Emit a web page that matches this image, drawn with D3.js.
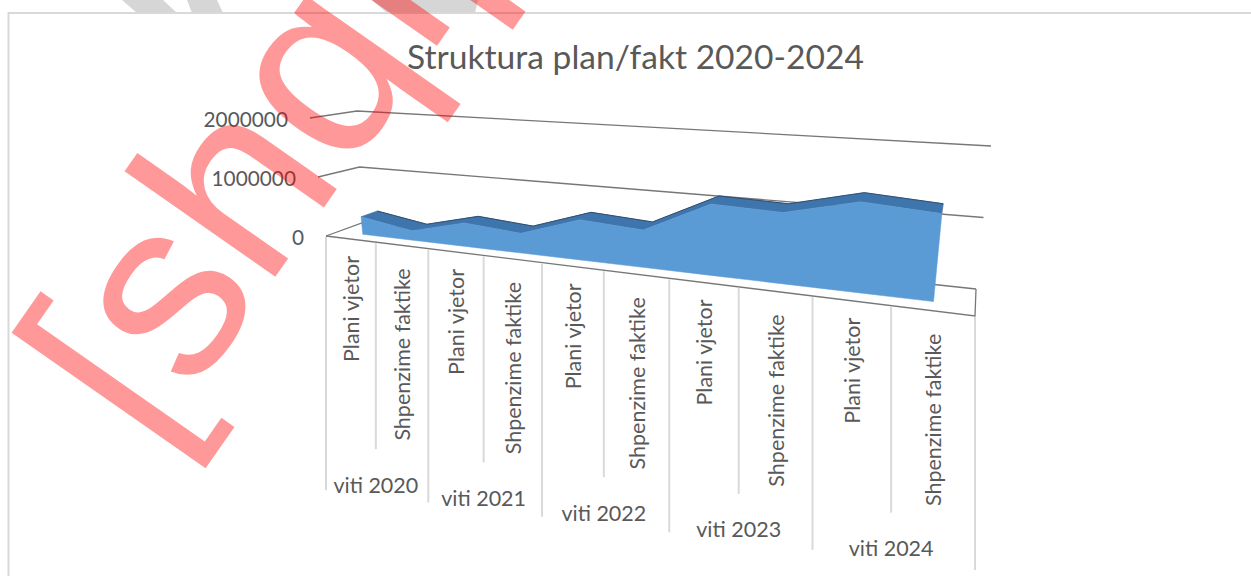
<!DOCTYPE html>
<html><head><meta charset="utf-8">
<script src="https://cdn.jsdelivr.net/npm/d3@7"></script>
<style>html,body{margin:0;padding:0;background:#fff}svg{display:block}text{font-family:Lato,"Open Sans",sans-serif}</style>
</head><body><svg id="c" width="1251" height="576"></svg>
<script>
const title = "Struktura plan/fakt 2020-2024";
const years = ["viti 2020","viti 2021","viti 2022","viti 2023","viti 2024"];
const kinds = ["Plani vjetor","Shpenzime faktike"];
const values = [300000,160000,385000,315000,630000,570000,1060000,1030000,1280000,1210000];
const axisTicks = [0,1000000,2000000];

const svg = d3.select("#c");
// perspective along the category axis
const k = 1.336;
const persp = t => t/(t+k*(1-t));
const nCat = values.length;
const tScale = d3.scaleLinear().domain([0,nCat]).range([0,1]);
const frontX = d3.scaleLinear().domain([0,1]).range([326,975]);
const frontY = d3.scaleLinear().domain([0,1]).range([236,316]);
const backX  = d3.scaleLinear().domain([0,1]).range([362,976]);
const backY  = d3.scaleLinear().domain([0,1]).range([223,289]);
const leanFront = d3.scaleLinear().domain([0,1]).range([-8,8]);
const riseFront = d3.scaleLinear().domain([0,1]).range([59,75]);
const leanBack  = d3.scaleLinear().domain([0,1]).range([-2.5,7.5]);
const riseBack  = d3.scaleLinear().domain([0,1]).range([56,71.5]);
const vScale = d3.scaleLinear().domain([0,1000000]).range([0,1]);
// c: category position (0..nCat), v: value, d: depth 0 front .. 1 back
function project(c,v,d){
  const u = persp(tScale(c)), m = vScale(v);
  const x0 = frontX(u)+(backX(u)-frontX(u))*d, y0 = frontY(u)+(backY(u)-frontY(u))*d;
  const lean = leanFront(u)+(leanBack(u)-leanFront(u))*d, rise = riseFront(u)+(riseBack(u)-riseFront(u))*d;
  return [x0+lean*m, y0-rise*m];
}
const line = d3.line();
const dF = 0.35, dB = 0.8;

// grey watermark remnants above the chart frame
[[[122,0],[137,13],[177,13],[163,0]],[[187,0],[192,13],[223,13],[217,0]],[[372,0],[387,13],[475,13],[478,0]]]
 .forEach(p=>svg.append("path").attr("d",line(p)+"Z").attr("fill","#d6d6d6"));
// frame
svg.append("path").attr("d","M8.5 576V13H1251").attr("fill","none").attr("stroke","#d9d9d9").attr("stroke-width",2);

svg.append("text").attr("x",635.5).attr("y",69).attr("text-anchor","middle").attr("font-size",33.6).attr("fill","#595959").text(title);

// value axis labels and gridlines
const gridColor="#777777";
axisTicks.forEach(t=>{
  const a=project(0,t,0), b=project(0,t,1), c=project(nCat,t,1);
  svg.append("text").attr("x",a[0]-22).attr("y",a[1]+9).attr("text-anchor","end").attr("font-size",20.8).attr("fill","#595959").text(String(t));
  svg.append("path").attr("d",line([a,b,c])).attr("fill","none").attr("stroke",gridColor).attr("stroke-width",1.3);
});
// floor outline
svg.append("path").attr("d",line([project(nCat,0,1),project(nCat,0,0),project(0,0,0)])).attr("fill","none").attr("stroke",gridColor).attr("stroke-width",1.3);

// top surface
const cats = d3.range(nCat).map(i=>i+0.5);
const topBack = cats.map((c,i)=>project(c,values[i],dB));
const topFront = cats.map((c,i)=>project(c,values[i],dF));
svg.append("path").attr("d",line(topBack.concat(topFront.slice().reverse()))+"Z").attr("fill","#3f75ad").attr("stroke","#3f6f9f").attr("stroke-width",.6);
svg.append("path").attr("d",line(topBack)).attr("fill","none").attr("stroke","#2f4f70").attr("stroke-width",1);
// front face
const base = cats.map(c=>project(c,0,dF));
svg.append("path").attr("d",line(topFront.concat(base.slice().reverse()))+"Z").attr("fill","#5b9bd5").attr("stroke","#5b9bd5").attr("stroke-width",.5);

// category axis dividers and labels
const floorAt = c=>project(c,0,0);
d3.range(nCat+1).forEach(i=>{
  const p=floorAt(i), len = i%2===0 ? 254 : 207;
  svg.append("line").attr("x1",p[0]).attr("x2",p[0]).attr("y1",p[1]+1).attr("y2",p[1]+len).attr("stroke","#d9d9d9").attr("stroke-width",2);
});
d3.range(nCat).forEach(i=>{
  const p=floorAt(i+0.5);
  const tx=(frontX(persp(tScale(i)))+frontX(persp(tScale(i+1))))/2, ty=p[1]+(i%2===0?17:23);
  svg.append("text").attr("transform",`translate(${tx+8},${ty}) rotate(-90)`).attr("text-anchor","end").attr("font-size",21.5).attr("fill","#595959").text(kinds[i%2]);
});
years.forEach((y,i)=>{
  const p=floorAt(2*i+1);
  svg.append("text").attr("x",p[0]).attr("y",p[1]+250.5).attr("text-anchor","middle").attr("font-size",21.5).attr("fill","#595959").text(y);
});
// red watermark
svg.append("text").attr("transform","translate(152,453) rotate(-55)").attr("font-size",254).style("font-family","'Liberation Sans'").attr("fill","#ff0000").attr("fill-opacity",.4).text("[shqip");
</script></body></html>
